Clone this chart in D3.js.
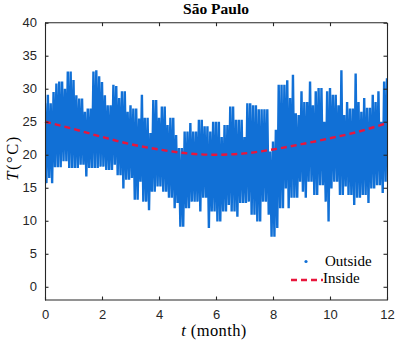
<!DOCTYPE html>
<html>
<head>
<meta charset="utf-8">
<script src="https://cdn.jsdelivr.net/npm/d3@7"></script>
<style>
  body { margin: 0; background: #fff; }
  svg { display: block; }
</style>
</head>
<body>
<div id="chart"></div>
<script>
// sampled every 0.1 month (t = 0 .. 12), daily peak and trough of outside air
const outsideHigh = [
  27.8, 29.1, 27.8, 29.5, 30.8, 31.1, 31.1, 30.0, 32.6, 32.6,
  31.3, 29.0, 28.5, 28.5, 26.5, 27.0, 27.0, 32.6, 32.8, 31.9,
  31.0, 29.0, 27.5, 27.5, 30.6, 30.4, 28.6, 29.6, 29.6, 26.5,
  27.5, 27.0, 27.0, 25.5, 29.1, 25.6, 25.6, 23.3, 28.3, 28.3,
  25.6, 27.3, 27.3, 24.5, 25.6, 25.6, 23.0, 21.0, 21.0, 23.5,
  23.5, 24.8, 23.5, 23.5, 25.3, 25.3, 24.3, 24.3, 23.5, 25.0,
  25.0, 25.0, 22.7, 24.5, 24.5, 27.3, 27.3, 25.3, 25.3, 25.3,
  22.7, 27.8, 27.8, 27.5, 27.5, 26.9, 26.9, 26.9, 26.9, 20.5,
  22.0, 23.8, 30.6, 30.6, 30.6, 31.3, 28.6, 32.1, 26.3, 26.0,
  29.6, 28.0, 28.0, 31.1, 27.5, 29.6, 30.1, 30.1, 25.0, 29.6,
  30.1, 29.1, 29.1, 27.5, 32.8, 26.0, 28.0, 27.0, 27.0, 32.3,
  28.0, 26.5, 28.6, 27.1, 27.1, 29.1, 28.0, 29.6, 25.0, 31.1,
  31.6
];
const outsideLow = [
  15.7, 16.5, 15.7, 18.1, 18.1, 18.1, 19.0, 19.0, 18.0, 18.0,
  18.0, 18.0, 18.5, 18.5, 16.7, 18.0, 18.0, 18.0, 18.0, 18.2,
  18.2, 17.7, 17.7, 17.7, 18.5, 16.9, 16.9, 14.9, 16.2, 16.2,
  16.5, 13.2, 13.2, 15.9, 12.9, 12.9, 11.6, 14.4, 14.4, 15.2,
  15.2, 14.4, 14.4, 13.5, 13.5, 11.9, 12.7, 9.1, 9.1, 11.9,
  11.9, 12.9, 12.9, 12.9, 11.4, 13.5, 13.5, 8.9, 11.4, 11.4,
  9.9, 9.9, 11.4, 11.4, 12.4, 11.4, 11.4, 10.6, 12.7, 12.7,
  12.7, 12.9, 10.9, 10.9, 9.9, 9.9, 12.9, 12.9, 10.9, 7.6,
  7.6, 8.9, 11.9, 11.9, 14.9, 11.9, 13.5, 13.5, 13.5, 15.9,
  14.4, 13.5, 15.9, 15.9, 13.9, 13.9, 15.4, 15.4, 12.9, 9.9,
  14.9, 15.9, 15.9, 13.9, 13.9, 15.2, 13.9, 13.9, 12.4, 13.5,
  13.5, 13.9, 13.9, 12.7, 14.9, 14.9, 15.4, 15.4, 14.2, 15.9,
  15.9
];
const insideMonths = [0, 1, 2, 3, 4, 5, 6, 7, 8, 9, 10, 11, 12];
const insideTemp = [25.0, 23.9, 22.7, 21.6, 20.8, 20.2, 20.0, 20.2, 20.8, 21.6, 22.5, 23.5, 24.8];
const xTicks = [0, 2, 4, 6, 8, 10, 12];
const yTicks = [0, 5, 10, 15, 20, 25, 30, 35, 40];
const legendLabels = ['Outside', 'Inside'];

const width = 399, height = 345;
const plotLeft = 45, plotRight = 387, plotTop = 22.7, plotBottom = 300;
const axisColor = '#262626';
const blue = '#1170d6';
const red = '#e8163c';
const serif = '"Liberation Serif", "DejaVu Serif", serif';
const sans = '"Liberation Sans", Arial, sans-serif';

const svg = d3.select('#chart')
    .append('svg')
    .attr('width', width)
    .attr('height', height);

const x = d3.scaleLinear().domain([0, 12]).range([plotLeft, plotRight]);
const y = d3.scaleLinear().domain([-2, 40]).range([plotBottom, plotTop]);

svg.append('clipPath')
    .attr('id', 'plotClip')
    .append('rect')
    .attr('x', plotLeft).attr('y', plotTop)
    .attr('width', plotRight - plotLeft).attr('height', plotBottom - plotTop);

// outside: zigzag between peak and trough of each sample
const step = 12 / (outsideHigh.length - 1);
const outsidePts = [];
outsideHigh.forEach(function (h, i) {
    outsidePts.push([i * step, h]);
    outsidePts.push([i * step + step / 2, outsideLow[i]]);
});

const line = d3.line()
    .x(d => x(d[0]))
    .y(d => y(d[1]));

svg.append('path')
    .datum(outsidePts)
    .attr('clip-path', 'url(#plotClip)')
    .attr('fill', 'none')
    .attr('stroke', blue)
    .attr('stroke-width', 2.4)
    .attr('stroke-linejoin', 'bevel')
    .attr('d', line);

// inside
svg.append('path')
    .datum(insideMonths.map((m, i) => [m, insideTemp[i]]))
    .attr('fill', 'none')
    .attr('stroke', red)
    .attr('stroke-width', 2.4)
    .attr('stroke-dasharray', '6,4')
    .attr('d', line.curve(d3.curveMonotoneX));

// axes box
const xAxisBottom = svg.append('g')
    .attr('transform', `translate(0,${plotBottom})`)
    .call(d3.axisBottom(x).tickValues(xTicks).tickSizeInner(-3.5).tickSizeOuter(0).tickPadding(10));
const xAxisTop = svg.append('g')
    .attr('transform', `translate(0,${plotTop})`)
    .call(d3.axisTop(x).tickValues(xTicks).tickSizeInner(-3.5).tickSizeOuter(0).tickFormat(''));
const yAxisLeft = svg.append('g')
    .attr('transform', `translate(${plotLeft},0)`)
    .call(d3.axisLeft(y).tickValues(yTicks).tickSizeInner(-3.5).tickSizeOuter(0).tickPadding(8));
const yAxisRight = svg.append('g')
    .attr('transform', `translate(${plotRight},0)`)
    .call(d3.axisRight(y).tickValues(yTicks).tickSizeInner(-3.5).tickSizeOuter(0).tickFormat(''));

[xAxisBottom, xAxisTop, yAxisLeft, yAxisRight].forEach(function (g) {
    g.select('.domain').attr('stroke', axisColor).attr('stroke-width', 1.1);
    g.selectAll('.tick line').attr('stroke', axisColor).attr('stroke-width', 1.1);
    g.selectAll('.tick text')
        .attr('fill', axisColor)
        .style('font-family', sans)
        .style('font-size', '13px');
});
// top and bottom edges span the full box
xAxisTop.select('.domain').attr('d', `M${plotLeft},0H${plotRight}`);
xAxisBottom.select('.domain').attr('d', `M${plotLeft},0H${plotRight}`);

// title
svg.append('text')
    .attr('x', 216)
    .attr('y', 14)
    .attr('text-anchor', 'middle')
    .style('font-family', serif)
    .style('font-size', '15.5px')
    .style('font-weight', 'bold')
    .text('São Paulo');

// x label
const xLabel = svg.append('text')
    .attr('x', 214)
    .attr('y', 336)
    .attr('text-anchor', 'middle')
    .style('font-family', serif)
    .style('font-size', '16.5px')
    .style('letter-spacing', '0.4px');
xLabel.append('tspan').style('font-style', 'italic').text('t');
xLabel.append('tspan').text(' (month)');

// y label
const yLabel = svg.append('text')
    .attr('transform', 'translate(18,158) rotate(-90)')
    .attr('text-anchor', 'middle')
    .style('font-family', serif)
    .style('font-size', '16.5px')
    .style('letter-spacing', '1.5px');
yLabel.append('tspan').style('font-style', 'italic').text('T');
yLabel.append('tspan').text('(°C)');

// legend
const legend = svg.append('g');
legend.append('circle')
    .attr('cx', 306).attr('cy', 261.5).attr('r', 1.6)
    .attr('fill', blue);
legend.append('line')
    .attr('x1', 291).attr('x2', 323)
    .attr('y1', 280).attr('y2', 280)
    .attr('stroke', red)
    .attr('stroke-width', 2.4)
    .attr('stroke-dasharray', '6,4');
legend.selectAll('text.leg')
    .data(legendLabels)
    .enter()
    .append('text')
    .attr('class', 'leg')
    .attr('x', (d, i) => i === 0 ? 325 : 323)
    .attr('y', (d, i) => i === 0 ? 266 : 283)
    .style('font-family', serif)
    .style('font-size', '15px')
    .text(d => d);
</script>
</body>
</html>
